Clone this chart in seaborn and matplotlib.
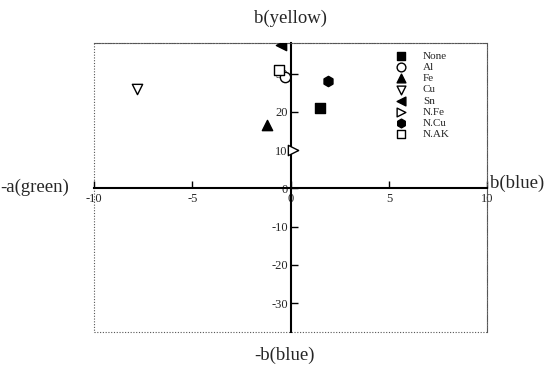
import matplotlib
matplotlib.use("Agg")
import matplotlib.pyplot as plt
import seaborn as sns
import pandas as pd
from matplotlib.patches import Rectangle

sns.set_theme(style="white")
plt.rcParams['font.family'] = ['Liberation Serif', 'DejaVu Serif']
plt.rcParams['axes.unicode_minus'] = False

labels = ["None", "Al", "Fe", "Cu", "Sn", "N.Fe", "N.Cu", "N.AK"]
a_vals = [1.5, -0.3, -1.2, -7.8, -0.5, 0.1, 1.9, -0.6]
b_vals = [21.0, 29.0, 16.5, 26.0, 37.5, 10.0, 28.0, 31.0]
markers = ["s", "o", "^", "v", "<", ">", "h", "s"]
filled = [True, False, True, False, True, False, True, False]

xticks = [-10, -5, 0, 5, 10]
yticks = [-30, -20, -10, 0, 10, 20, 30]

df = pd.DataFrame({"a": a_vals, "b": b_vals, "label": labels})

fig = plt.figure(figsize=(5.53, 3.70), dpi=100)
ax = fig.add_axes([0.170, 0.103, 0.711, 0.781])

for i, row in df.iterrows():
    sns.scatterplot(x=[row["a"]], y=[row["b"]], ax=ax, marker=markers[i],
                    color="black" if filled[i] else "white",
                    edgecolor="black", linewidth=1.0, s=55,
                    label=row["label"], zorder=5)

ax.set_xlim(-10, 10)
ax.set_ylim(-37.5, 38)
ax.set_xticks(xticks)
ax.set_yticks(yticks)
ax.set_xlabel("")
ax.set_ylabel("")

for side in ["top", "right"]:
    ax.spines[side].set_linestyle((0, (1, 1.5)))
    ax.spines[side].set_color("#555555")
    ax.spines[side].set_linewidth(0.8)
ax.spines["left"].set_position(("data", 0))
ax.spines["bottom"].set_position(("data", 0))
for side in ["left", "bottom"]:
    ax.spines[side].set_color("black")
    ax.spines[side].set_linewidth(1.5)
ax.add_patch(Rectangle((0, 0), 1, 1, transform=ax.transAxes, fill=False,
                       linestyle=(0, (1, 1.5)), edgecolor="#555555",
                       linewidth=0.8, zorder=0, clip_on=False))

ax.tick_params(axis="both", direction="in", length=5, width=1, color="black",
               labelsize=9, left=True, bottom=True)
ax.tick_params(axis="x", pad=3)
ax.tick_params(axis="y", pad=2)

fig.text(0.5 * (0.170 + 0.881) + 0.0, 0.95, "b(yellow)", ha="center", va="center", fontsize=13.5)
fig.text(0.515, 0.04, "-b(blue)", ha="center", va="center", fontsize=13.5)
fig.text(0.0, 0.495, "-a(green)", ha="left", va="center", fontsize=13.5)
fig.text(0.886, 0.505, "b(blue)", ha="left", va="center", fontsize=13.5)

leg = ax.legend(loc="upper left", bbox_to_anchor=(0.735, 0.995), frameon=False,
                fontsize=8, handletextpad=1.0, labelspacing=0.13,
                borderaxespad=0.2, markerscale=0.85)

fig.savefig("out.png", dpi=100)
